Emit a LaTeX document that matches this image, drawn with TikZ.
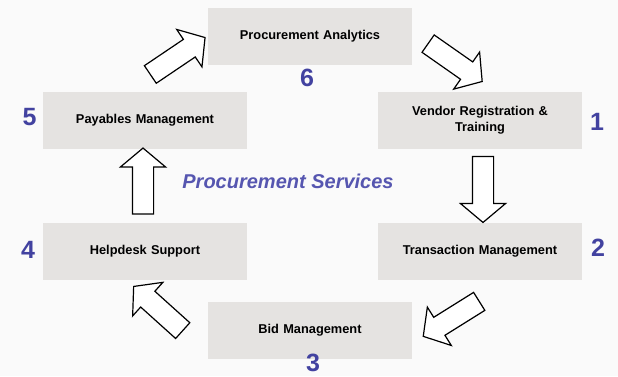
\documentclass[tikz,border=0pt]{standalone}
\usepackage{fontspec}
\setmainfont{Liberation Sans}
\usepackage{xcolor}
\usetikzlibrary{shapes,arrows,positioning}
\definecolor{boxgray}{RGB}{229,227,225}
\definecolor{bggray}{RGB}{250,250,250}
\definecolor{numblue}{RGB}{66,66,160}
\definecolor{titleblue}{RGB}{86,86,176}
\tikzstyle{block} = [rectangle, fill=boxgray, text centered, font=\fontsize{12.8}{16}\selectfont\bfseries, minimum height=57pt, minimum width=204pt, text width=190pt, align=center]
\tikzstyle{num} = [text=numblue, font=\fontsize{25}{25}\selectfont\bfseries, inner sep=1pt]
\tikzstyle{bigarrow} = [single arrow, draw, fill=white, line width=1.2pt, inner sep=0pt, text height=20pt, text depth=0pt, minimum height=66pt, single arrow head extend=12pt, single arrow tip angle=100]

\begin{document}
\begin{tikzpicture}[x=1pt, y=-1pt, node distance=130.5pt]
\fill [bggray] (0,0) rectangle (618,376);
\useasboundingbox (0,0) rectangle (618,376);
% boxes
\node [block] (pay) at (145,120.5) {Payables Management};
\node [block, below of=pay] (help) {Helpdesk Support};
\node [block] (ana) at (310,36) {Procurement Analytics};
\node [block] (vendor) at (480,120.5) {Vendor Registration \&\\ Training};
\node [block, below of=vendor] (trans) {Transaction Management};
\node [block] (bid) at (310,330) {Bid Management};
% step numbers
\node [num] (n1) at (597,122) {1};
\node [num] (n2) at (598,248) {2};
\node [num] (n3) at (313,363) {3};
\node [num] (n4) at (28,250) {4};
\node [num] (n5) at (29.5,117) {5};
\node [num] (n6) at (307,77.5) {6};
\node [text=titleblue, font=\fontsize{20}{20}\selectfont\bfseries\itshape, anchor=base] (title) at (288,188) {Procurement Services};
% cycle arrows
\node [bigarrow, rotate=34] (a56) at (174,58.5) {};
\node [bigarrow, rotate=-35] (a61) at (451.5,60) {};
\node [bigarrow, rotate=-90] (a12) at (483,185) {};
\node [bigarrow, rotate=-148] (a23) at (455,316.5) {};
\node [bigarrow, rotate=138] (a34) at (161.5,311.5) {};
\node [bigarrow, rotate=90] (a45) at (143,185.5) {};
\end{tikzpicture}
\end{document}
